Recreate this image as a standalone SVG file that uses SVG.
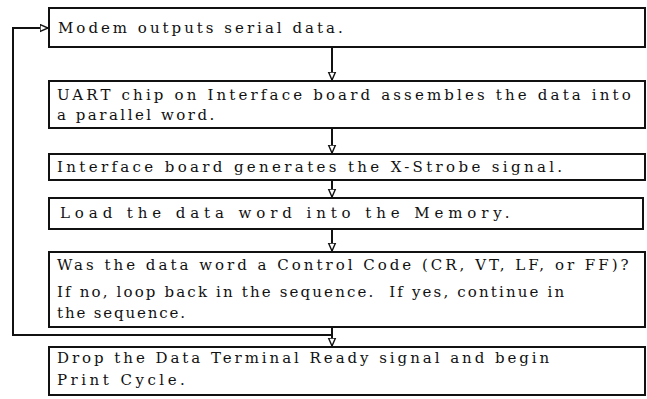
<svg xmlns="http://www.w3.org/2000/svg" width="647" height="399" viewBox="0 0 647 399">
<defs>
<marker id="ah" markerWidth="10" markerHeight="14" refX="8" refY="4.5" orient="auto" markerUnits="userSpaceOnUse">
<path d="M0,1 L8,4.5 L0,8 Z" fill="#fff" stroke="#111" stroke-width="1.4"/>
</marker>
</defs>
<style>
.box{fill:#fff;stroke:#111;stroke-width:2}
.t{font-size:15px;fill:#111}
.c{fill:none;stroke:#111;stroke-width:2}
</style>
<rect width="647" height="399" fill="#fff"/>
<g id="connectors">
<path class="c" d="M332,47 L332,80" marker-end="url(#ah)"/>
<path class="c" d="M332,129 L332,153" marker-end="url(#ah)"/>
<path class="c" d="M332,181 L332,197" marker-end="url(#ah)"/>
<path class="c" d="M332,230 L332,251" marker-end="url(#ah)"/>
<path class="c" d="M332,328 L332,346" marker-end="url(#ah)"/>
<path class="c" d="M332,335 L13,335 L13,28 L48,28" marker-end="url(#ah)"/>
</g>
<g font-family="DejaVu Serif">
<g id="n1">
<rect class="box" x="49" y="8" width="596" height="39"/>
<text class="t" x="58" y="33" letter-spacing="3">Modem outputs serial data.</text>
</g>
<g id="n2">
<rect class="box" x="49" y="81" width="596" height="47"/>
<text class="t" x="57" y="100" letter-spacing="3.15">UART chip on Interface board assembles the data into</text>
<text class="t" x="57" y="120" letter-spacing="2.5">a parallel word.</text>
</g>
<g id="n3">
<rect class="box" x="49" y="154" width="596" height="26"/>
<text class="t" x="57" y="172" letter-spacing="3.35">Interface board generates the X-Strobe signal.</text>
</g>
<g id="n4">
<rect class="box" x="49" y="198" width="594" height="31"/>
<text class="t" x="60" y="218" letter-spacing="4.9">Load the data word into the Memory.</text>
</g>
<g id="n5">
<rect class="box" x="49" y="252" width="596" height="75"/>
<text class="t" x="57" y="270" letter-spacing="3">Was the data word a Control Code (CR, VT, LF, or FF)?</text>
<text class="t" x="57" y="297" letter-spacing="2.15" xml:space="preserve">If no, loop back in the sequence.  If yes, continue in</text>
<text class="t" x="57" y="318" letter-spacing="1.85">the sequence.</text>
</g>
<g id="n6">
<rect class="box" x="49" y="347" width="596" height="48"/>
<text class="t" x="57" y="363" letter-spacing="2.95">Drop the Data Terminal Ready signal and begin</text>
<text class="t" x="57" y="385" letter-spacing="3.5">Print Cycle.</text>
</g>
</g>
</svg>
